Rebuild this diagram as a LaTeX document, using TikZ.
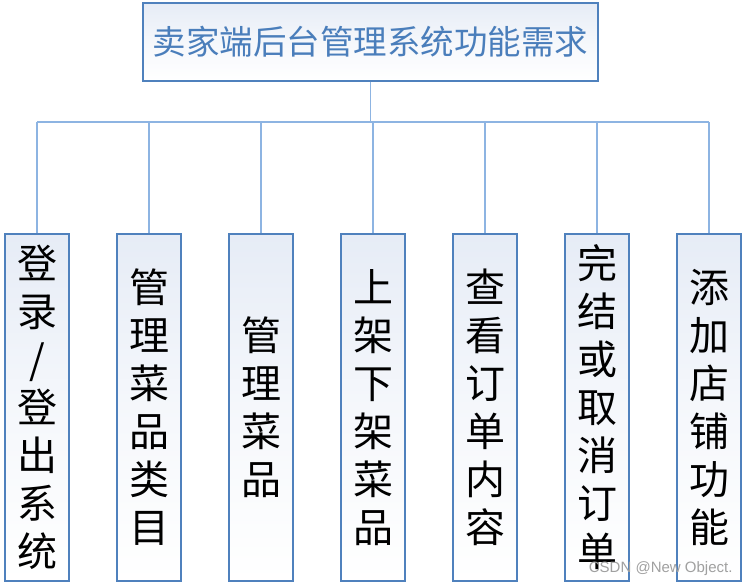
\documentclass[tikz,border=0pt]{standalone}
\usepackage{fontspec}
\setmainfont{Noto Sans CJK SC}
\newfontfamily\wmfont{Liberation Sans}
\usepackage{tikz}
\usetikzlibrary{positioning}
\definecolor{edge}{HTML}{4F81BD}
\definecolor{wire}{HTML}{8DB4E2}
\definecolor{tint}{HTML}{E6ECF6}
\definecolor{titleblue}{HTML}{4A7EBB}
\definecolor{wmgray}{HTML}{A0A0A0}
\tikzset{
  card/.style={draw=edge,line width=1.1pt,top color=tint,bottom color=white,middle color=white!60!tint,inner sep=0pt},
  duty/.style={card,minimum width=64pt,minimum height=347pt,align=center,
    font=\fontsize{40}{48}\selectfont},
  link/.style={draw=wire,line width=1.6pt}
}

\begin{document}
\begin{tikzpicture}[x=1pt,y=-1pt]
  \useasboundingbox (0,0) rectangle (749,588);
  \node[card,minimum width=455pt,minimum height=78pt,text=titleblue,font=\fontsize{33.5}{40}\selectfont]
    (root) at (370.5,42){卖家端后台管理系统功能需求};
  % seven function boxes
  \node[duty] (login) at (37,407.5){登\\录\\/\\登\\出\\系\\统};
  \node[duty] (cate) at (149,407.5){管\\理\\菜\\品\\类\\目};
  \node[duty] (dish) at (261,407.5){管\\理\\菜\\品};
  \node[duty] (shelf) at (373,407.5){上\\架\\下\\架\\菜\\品};
  \node[duty] (view) at (485,407.5){查\\看\\订\\单\\内\\容};
  \node[duty] (finish) at (597,407.5){完\\结\\或\\取\\消\\订\\单};
  \node[duty] (shop) at (709,407.5){添\\加\\店\\铺\\功\\能};
  \coordinate (bus) at (370.5,122);
  \draw[link] (root.south)--(bus);
  \draw[link] (bus-|login.north)--(bus-|shop.north);
  \foreach \k in {login,cate,dish,shelf,view,finish,shop}
    \draw[link] (bus-|\k.north)--(\k.north);
  \node[anchor=east,text=wmgray,font=\wmfont\fontsize{15}{18}\selectfont] (wm) at (736,569){CSDN @New Object.};
\end{tikzpicture}
\end{document}
